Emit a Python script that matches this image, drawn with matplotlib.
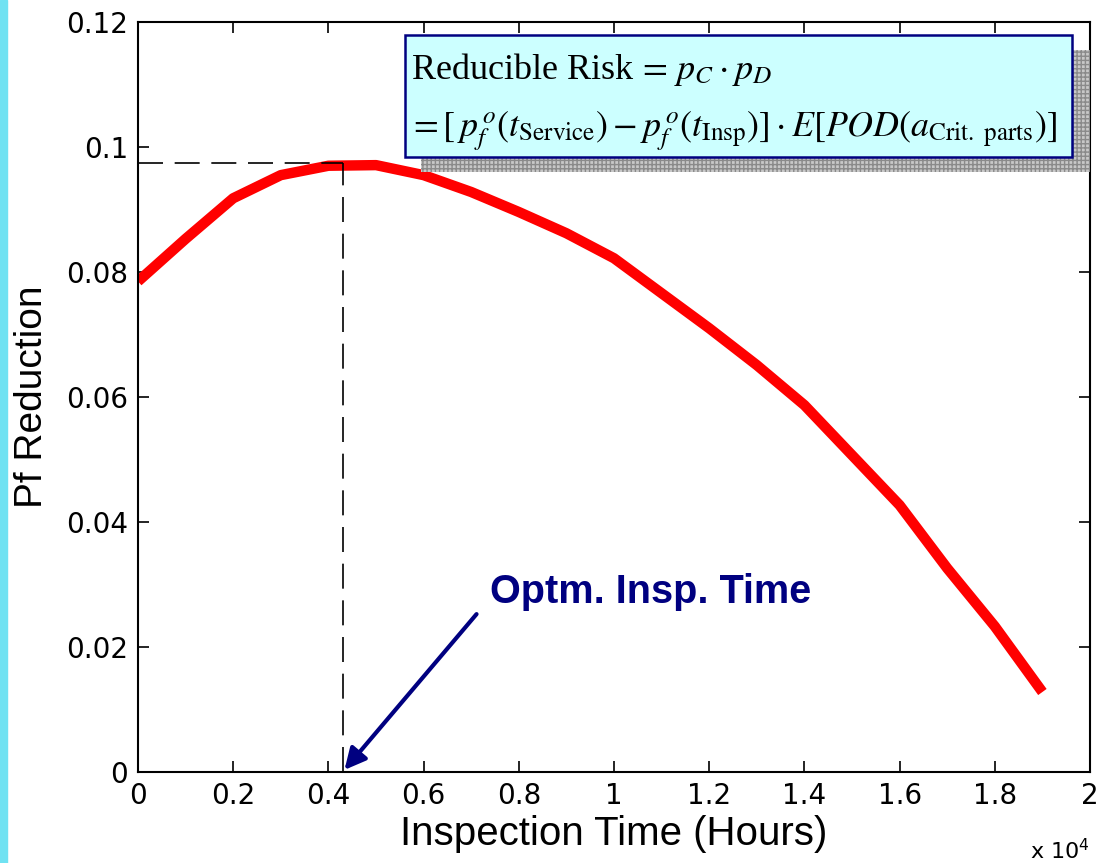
import matplotlib
matplotlib.use("Agg")
import matplotlib.pyplot as plt
from matplotlib.patches import Rectangle

# data (hours, Pf reduction)
hours = [0, 1000, 2000, 3000, 4000, 5000, 6000, 7000, 8000, 9000,
         10000, 11000, 12000, 13000, 14000, 15000, 16000, 17000, 18000, 19000]
pf_red = [0.0785, 0.0853, 0.0918, 0.0955, 0.0970, 0.0971, 0.0955, 0.0928, 0.0896, 0.0862,
          0.0822, 0.0766, 0.0710, 0.0651, 0.0587, 0.0507, 0.0427, 0.0326, 0.0233, 0.0128]

opt_time = 4300
opt_val = 0.0975

xticks = [0, 2000, 4000, 6000, 8000, 10000, 12000, 14000, 16000, 18000, 20000]
xtick_labels = ["0", "0.2", "0.4", "0.6", "0.8", "1", "1.2", "1.4", "1.6", "1.8", "2"]
yticks = [0, 0.02, 0.04, 0.06, 0.08, 0.1, 0.12]
ytick_labels = ["0", "0.02", "0.04", "0.06", "0.08", "0.1", "0.12"]

plt.rcParams['mathtext.fontset'] = 'stix'
tickfont = ['Liberation Sans Narrow', 'DejaVu Sans']
labfont = ['Liberation Sans', 'DejaVu Sans']

fig = plt.figure(figsize=(10.99, 8.63), dpi=100)
fig.patches.append(Rectangle((0, 0), 7 / 1099, 1, transform=fig.transFigure,
                             color='#70e2f2', zorder=0))
ax = fig.add_axes([138 / 1099, 1 - 772 / 863, 952 / 1099, 750 / 863])

# main curve
ax.plot(hours, pf_red, color='red', lw=7.5, solid_capstyle='butt',
        solid_joinstyle='round', zorder=2)

# dashed guides to the optimum
ax.plot([0, opt_time], [opt_val, opt_val], color='black', lw=1.2, dashes=(15, 7), zorder=3)
ax.plot([opt_time, opt_time], [0, opt_val], color='black', lw=1.2, dashes=(15, 7), zorder=3)

ax.set_xlim(0, 20000)
ax.set_ylim(0, 0.12)
ax.set_xticks(xticks)
ax.set_xticklabels(xtick_labels, family=tickfont, fontsize=20)
ax.set_yticks(yticks)
ax.set_yticklabels(ytick_labels, family=tickfont, fontsize=20)
ax.tick_params(direction='in', length=8, width=1.2, top=True, right=True, pad=7)
for s in ax.spines.values():
    s.set_linewidth(1.5)

ax.set_xlabel("Inspection Time (Hours)", family=labfont, fontsize=29, labelpad=4)
ax.set_ylabel("Pf Reduction", family=labfont, fontsize=28, labelpad=12)
fig.text(1090 / 1099, 1 - 858 / 863, r"x 10$^{\mathregular{4}}$", family=tickfont,
         fontsize=16, ha='right', va='baseline')

# arrow and label
ax.annotate("", xy=(opt_time, 0), xytext=(7150, 0.0256),
            arrowprops=dict(arrowstyle='-|>', mutation_scale=32, lw=3, color='#000080'),
            zorder=4)
ax.text(7400, 0.0288, "Optm. Insp. Time", family=labfont, fontsize=28.5,
        fontweight='bold', color='#000080', ha='left', va='center')

# formula box with hatched shadow
ax.add_patch(Rectangle((0.297, 0.80), 0.703, 0.163, transform=ax.transAxes,
                       facecolor='#c8c8c8', edgecolor='#8a8a8a', hatch='++++', lw=0,
                       zorder=5, clip_on=False))
ax.add_patch(Rectangle((0.2805, 0.82), 0.7005, 0.163, transform=ax.transAxes,
                       facecolor='#ccffff', edgecolor='#000080', lw=1.8,
                       zorder=6, clip_on=False))
ax.text(0.287, 0.937, r"Reducible Risk$\,=\,p_C\cdot p_D$", transform=ax.transAxes,
        family=['Liberation Serif', 'DejaVu Serif'], fontsize=26, ha='left', va='center', zorder=7)
ax.text(0.284, 0.855,
        r"$=[\,p_f^{\,o}(t_{\mathrm{Service}})-p_f^{\,o}(t_{\mathrm{Insp}})]\cdot E[POD(a_{\mathrm{Crit.\ parts}})]$",
        transform=ax.transAxes, fontsize=25.8, ha='left', va='center', zorder=7)

fig.savefig("out.png", dpi=100)
